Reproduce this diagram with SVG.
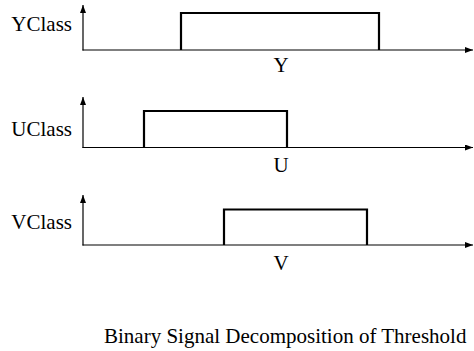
<svg xmlns="http://www.w3.org/2000/svg" width="474" height="351" viewBox="0 0 474 351">
<defs>
<marker id="ah" markerWidth="8" markerHeight="6" refX="8" refY="3" orient="auto" markerUnits="userSpaceOnUse">
<path d="M0,0 L8,3 L0,6 z" fill="#000"/>
</marker>
<style>
.ax{stroke:#000;stroke-width:1.2;fill:none}
.pl{stroke:#000;stroke-width:2.2;fill:none}
.t{font-family:"Liberation Serif","Times New Roman",serif;font-size:21px;fill:#000}
</style>
</defs>
<rect width="474" height="351" fill="#fff"/>
<g id="connectors">
<line class="ax" x1="83" y1="50.5" x2="83" y2="5" marker-end="url(#ah)"/>
<line class="ax" x1="82.5" y1="50" x2="473" y2="50" marker-end="url(#ah)"/>
<line class="ax" x1="83" y1="148" x2="83" y2="97" marker-end="url(#ah)"/>
<line class="ax" x1="82.5" y1="147.5" x2="473" y2="147.5" marker-end="url(#ah)"/>
<line class="ax" x1="83" y1="245.5" x2="83" y2="195" marker-end="url(#ah)"/>
<line class="ax" x1="82.5" y1="245" x2="473" y2="245" marker-end="url(#ah)"/>
</g>
<g id="signal-Y">
<polyline class="pl" points="181,50 181,13 379,13 379,50"/>
<text class="t" x="72" y="31" text-anchor="end">YClass</text>
<text class="t" x="281" y="72" text-anchor="middle">Y</text>
</g>
<g id="signal-U">
<polyline class="pl" points="144,147.5 144,111 287,111 287,147.5"/>
<text class="t" x="72" y="136" text-anchor="end">UClass</text>
<text class="t" x="281" y="172" text-anchor="middle">U</text>
</g>
<g id="signal-V">
<polyline class="pl" points="224,245 224,209.5 367,209.5 367,245"/>
<text class="t" x="72" y="229" text-anchor="end">VClass</text>
<text class="t" x="281" y="270" text-anchor="middle">V</text>
</g>
<g id="caption">
<text class="t" x="104" y="343">Binary Signal Decomposition of Threshold</text>
</g>
</svg>
